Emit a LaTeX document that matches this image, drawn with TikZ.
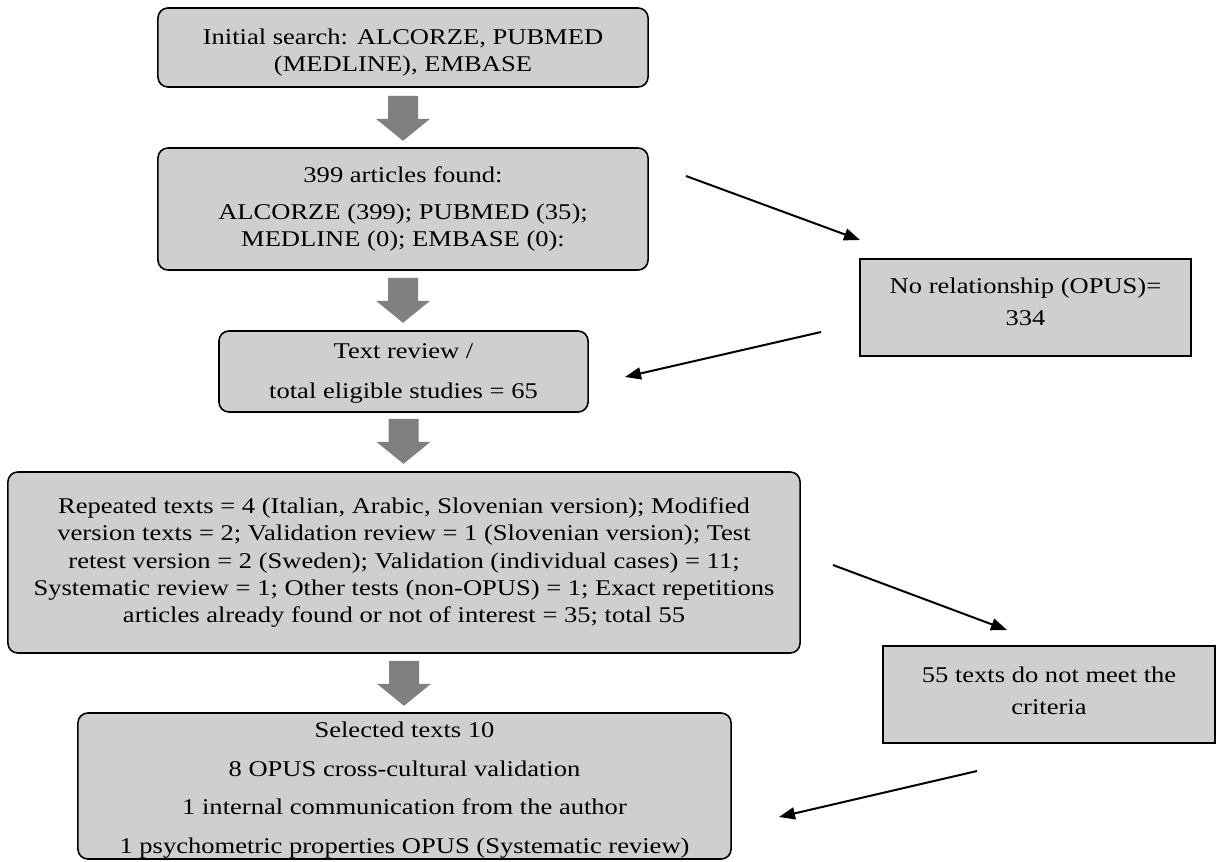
\documentclass[tikz,border=0pt]{standalone}
\usepackage{fontspec}
\setmainfont{Liberation Serif}[FakeStretch=1.18]
\usetikzlibrary{arrows.meta, calc}

\definecolor{box_gray}{RGB}{208,206,206}
\definecolor{block_arrow_gray}{RGB}{128,128,128}

\tikzset{
  stage/.style={draw=black, line width=0.04cm, fill=box_gray, rounded corners=0.25cm,
    align=center, inner sep=0pt, font=\fontsize{16}{19.5}\selectfont},
  dropped/.style={draw=black, line width=0.05cm, fill=box_gray,
    align=center, inner sep=0pt, font=\fontsize{16}{19.5}\selectfont},
  thin_arrow/.style={line width=0.05cm, -{Triangle[length=0.4cm,width=0.3cm]}},
  down_arrow/.pic={
    \fill[block_arrow_gray] (-15,0) -- (15,0) -- (15,23) -- (27,23) -- (0,45) -- (-27,23) -- (-15,23) -- cycle;
  }
}

\begin{document}
\begin{tikzpicture}[x=0.025cm, y=-0.025cm]
\useasboundingbox (0,0) rectangle (1224,862);

% main column
\node[stage, minimum width=12.25cm, minimum height=1.975cm] (search) at (403,47.5)
  {\rule{0pt}{18pt}Initial search: ALCORZE, PUBMED\\(MEDLINE), EMBASE};
\node[stage, minimum width=12.25cm, minimum height=3.05cm] (found) at (403,209)
  {399 articles found:\\[7pt]ALCORZE (399); PUBMED (35);\\MEDLINE (0); EMBASE (0):};
\node[stage, minimum width=9.225cm, minimum height=2.025cm] (review) at (403.5,371.5)
  {\rule{0pt}{14pt}Text review /\\[9pt]total eligible studies = 65};
\node[stage, minimum width=19.8cm, minimum height=4.525cm] (reasons) at (404,562.5)
  {Repeated texts = 4 (Italian, Arabic, Slovenian version); Modified\\
   version texts = 2; Validation review = 1 (Slovenian version); Test\\
   retest version = 2 (Sweden); Validation (individual cases) = 11;\\
   Systematic review = 1; Other tests (non-OPUS) = 1; Exact repetitions\\
   articles already found or not of interest = 35; total 55};
\node[stage, minimum width=16.325cm, minimum height=3.65cm] (selected) at (404.5,786)
  {\rule{0pt}{17pt}Selected texts 10\\[8pt]8 OPUS cross-cultural validation\\[8pt]
   1 internal communication from the author\\[8pt]
   1 psychometric properties OPUS (Systematic review)};

% excluded boxes
\node[dropped, minimum width=8.275cm, minimum height=2.425cm] (norel) at (1025.5,307.5)
  {No relationship (OPUS)=\\[3pt]334\rule[-8.5pt]{0pt}{1pt}};
\node[dropped, minimum width=8.3cm, minimum height=2.425cm] (unmet) at (1049,694.5)
  {55 texts do not meet the\\[3pt]criteria\rule[-5pt]{0pt}{1pt}};

% block arrows
\pic at ($(search.south)+(0,8)$) {down_arrow};
\pic at ($(found.south)+(0,7)$) {down_arrow};
\pic at ($(review.south)+(0,6)$) {down_arrow};
\pic at ($(reasons.south)+(0,7)$) {down_arrow};

% side arrows
\coordinate (found_out) at (686,176);
\coordinate (norel_in) at (860,240);
\coordinate (norel_out) at (821,332);
\coordinate (review_in) at (625,377);
\coordinate (reasons_out) at (833,565);
\coordinate (unmet_in) at (1007,630);
\coordinate (unmet_out) at (977,771);
\coordinate (selected_in) at (779,817);

\draw[thin_arrow] (found_out) -- (norel_in);
\draw[thin_arrow] (norel_out) -- (review_in);
\draw[thin_arrow] (reasons_out) -- (unmet_in);
\draw[thin_arrow] (unmet_out) -- (selected_in);

\end{tikzpicture}
\end{document}
